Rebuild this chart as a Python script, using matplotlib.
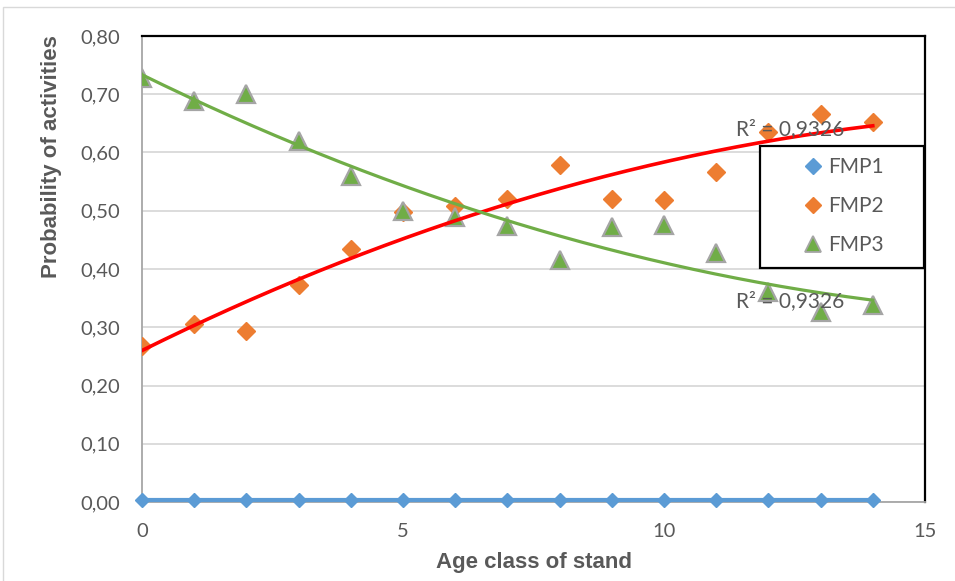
import numpy as np
import matplotlib

matplotlib.use("Agg")
import matplotlib.pyplot as plt
from matplotlib.lines import Line2D
from matplotlib.patches import Rectangle

age = list(range(15))
fmp1 = [0.003] * 15
fmp2 = [0.267, 0.306, 0.294, 0.372, 0.435, 0.497, 0.509, 0.521, 0.578,
        0.521, 0.519, 0.567, 0.635, 0.666, 0.653]
fmp3 = [0.728, 0.688, 0.700, 0.619, 0.559, 0.499, 0.490, 0.474, 0.415,
        0.472, 0.475, 0.427, 0.361, 0.327, 0.338]
series_names = ["FMP1", "FMP2", "FMP3"]
r2_text = "R² = 0,9326"

GRAY = "#595959"
BLUE = "#5B9BD5"
ORANGE = "#ED7D31"
GREEN = "#70AD47"

plt.rcParams["font.family"] = ["Lato", "DejaVu Sans"]
LABEL_FONT = ["Liberation Sans", "DejaVu Sans"]

fig = plt.figure(figsize=(9.55, 5.81), dpi=100)
ax = fig.add_axes([142 / 955, 79 / 581, 783 / 955, 466 / 581])

# outer chart-area border (only top/left edges visible in the crop)
fig.patches.append(Rectangle((3 / 955, -0.1), 1.2, (574 / 581) + 0.1,
                             transform=fig.transFigure, fill=False,
                             edgecolor="#d9d9d9", lw=1.0))

ax.set_xlim(0, 15)
ax.set_ylim(0, 0.8)
yt = np.arange(0, 0.81, 0.1)
ax.set_yticks(yt)
ax.set_yticklabels([f"{v:.2f}".replace(".", ",") for v in yt])
ax.set_xticks([0, 5, 10, 15])
ax.tick_params(length=0, labelsize=14.5, labelcolor=GRAY)
ax.tick_params(axis="y", pad=16)
ax.tick_params(axis="x", pad=15)
ax.grid(axis="y", color="#d9d9d9", lw=1.3)
ax.set_axisbelow(True)
for s in ("left", "bottom"):
    ax.spines[s].set_color("#a6a6a6")
    ax.spines[s].set_linewidth(1.3)
for s in ("top", "right"):
    ax.spines[s].set_color("black")
    ax.spines[s].set_linewidth(1.6)

ax.set_xlabel("Age class of stand", fontsize=16, fontweight="bold", color=GRAY,
              family=LABEL_FONT, labelpad=9)
ax.set_ylabel("Probability of activities", fontsize=16, fontweight="bold", color=GRAY,
              family=LABEL_FONT)
ax.yaxis.set_label_coords(-0.102, 0.742)

# Excel-style polynomial (order 2) trendlines
xs = np.linspace(0, 14, 200)
p2 = np.polyfit(age, fmp2, 2)
p3 = np.polyfit(age, fmp3, 2)

ax.plot(age, fmp1, color=BLUE, lw=3.0, marker="D", ms=7, mfc=BLUE, mec=BLUE,
        clip_on=False, zorder=4)
ax.plot(age, fmp2, ls="none", marker="D", ms=9.5, color=ORANGE, zorder=3)
ax.plot(age, fmp3, ls="none", marker="^", ms=13.5, mfc=GREEN, mec="#a5a5a5",
        mew=1.6, zorder=3)
ax.plot(xs, np.polyval(p2, xs), color="#ff0000", lw=2.6, zorder=5)
ax.plot(xs, np.polyval(p3, xs), color=GREEN, lw=2.3, zorder=5)

ax.text(12.42, 0.64, r2_text, fontsize=15, color=GRAY, ha="center", va="center", zorder=6)
ax.text(12.42, 0.345, r2_text, fontsize=15, color=GRAY, ha="center", va="center", zorder=6)

# legend box drawn separately so its size matches the reference
ax.add_patch(Rectangle(((760 - 142) / 783, (502 - 268) / 466), 164 / 783, 122 / 466,
                       transform=ax.transAxes, facecolor="white", edgecolor="black",
                       lw=1.6, clip_on=False, zorder=7))
handles = [
    Line2D([], [], ls="none", marker="D", ms=8, color=BLUE),
    Line2D([], [], ls="none", marker="D", ms=8, color=ORANGE),
    Line2D([], [], ls="none", marker="^", ms=12, mfc=GREEN, mec="#a5a5a5", mew=1.3),
]
leg = ax.legend(handles, series_names, loc="upper left",
                bbox_to_anchor=((805 - 142) / 783, (502 - 157) / 466), fontsize=15,
                labelcolor=GRAY, frameon=False, borderpad=0, labelspacing=0.92,
                handletextpad=0.35, handlelength=0.75, borderaxespad=0)
leg.set_zorder(8)

fig.savefig("out.png", dpi=100, facecolor="white")
